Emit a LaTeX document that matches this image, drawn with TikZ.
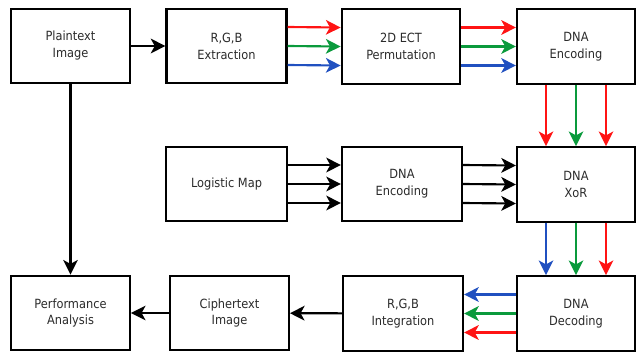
\documentclass[tikz,border=0pt]{standalone}
\usepackage{fontspec}
\setmainfont{DejaVu Sans Condensed}
\usetikzlibrary{arrows.meta}
\definecolor{txt}{HTML}{2B2B2B}
\definecolor{cred}{HTML}{FF1414}
\definecolor{cgreen}{HTML}{0A9A3C}
\definecolor{cblue}{HTML}{2050C0}
\tikzset{
  block/.style={draw=black, line width=1.6pt, fill=white, minimum width=89pt,
    minimum height=56pt, inner sep=0pt, align=center, text=txt,
    font=\fontsize{9.5}{12.75}\selectfont},
  flow/.style={line width=1.6pt, -{Stealth[length=11pt,width=11pt,inset=3pt]}},
}
\begin{document}
\begin{tikzpicture}[x=0.75pt,y=-0.75pt]
\useasboundingbox (0,0) rectangle (636,354);
% first row
\node[block] (plain) at (70.5,46) {Plaintext\\Image};
\node[block, minimum width=90pt] (extr) at (226.5,46) {R,G,B\\Extraction};
\node[block] (perm) at (401,46.5) {2D ECT\\Permutation};
\node[block, minimum width=88.5pt] (enc1) at (576,46.5) {DNA\\Encoding};
% second row
\node[block, minimum width=90.5pt] (logi) at (226.5,184) {Logistic Map};
\node[block, minimum width=90pt] (enc2) at (402,184) {DNA\\Encoding};
\node[block, minimum width=88.5pt] (xor) at (576,184.5) {DNA\\XoR};
% third row
\node[block] (perf) at (70.5,313) {Performance\\Analysis};
\node[block] (ciph) at (229.5,313) {Ciphertext\\Image};
\node[block, minimum width=90pt] (integ) at (403,313.5) {R,G,B\\Integration};
\node[block, minimum width=88.5pt] (dec) at (576,313.5) {DNA\\Decoding};

% single black connectors
\draw[flow] (plain) -- (extr);
\draw[flow] (plain) -- (perf);
\draw[flow] (integ) -- (ciph);
\draw[flow] (ciph) -- (perf);

% colour channels, left to right along the first row (red on top)
\foreach \dy/\c in {14.25pt/cred, 0pt/cgreen, -14.25pt/cblue}{
  \draw[flow, draw=\c, fill=\c] ([yshift=\dy]extr.east) -- ([yshift=\dy]perm.west);
  \draw[flow, draw=\c, fill=\c] ([yshift=\dy]perm.east) -- ([yshift=\dy]enc1.west);
}
% encoded channels down into the XoR stage
\foreach \dx/\c in {-22.5pt/cred, 0pt/cgreen, 22.5pt/cred}{
  \draw[flow, draw=\c, fill=\c] ([xshift=\dx]enc1.south) -- ([xshift=\dx]xor.north);
}
% XoR output down into decoding
\foreach \dx/\c in {-22.5pt/cblue, 0pt/cgreen, 22.5pt/cred}{
  \draw[flow, draw=\c, fill=\c] ([xshift=\dx]xor.south) -- ([xshift=\dx]dec.north);
}
% decoded channels back to integration (blue on top)
\foreach \dy/\c in {14.25pt/cblue, 0pt/cgreen, -14.25pt/cred}{
  \draw[flow, draw=\c, fill=\c] ([yshift=\dy]dec.west) -- ([yshift=\dy]integ.east);
}
% key stream from the logistic map
\foreach \dy in {14.25pt, 0pt, -14.25pt}{
  \draw[flow] ([yshift=\dy]logi.east) -- ([yshift=\dy]enc2.west);
  \draw[flow] ([yshift=\dy]enc2.east) -- ([yshift=\dy]xor.west);
}
\end{tikzpicture}
\end{document}
